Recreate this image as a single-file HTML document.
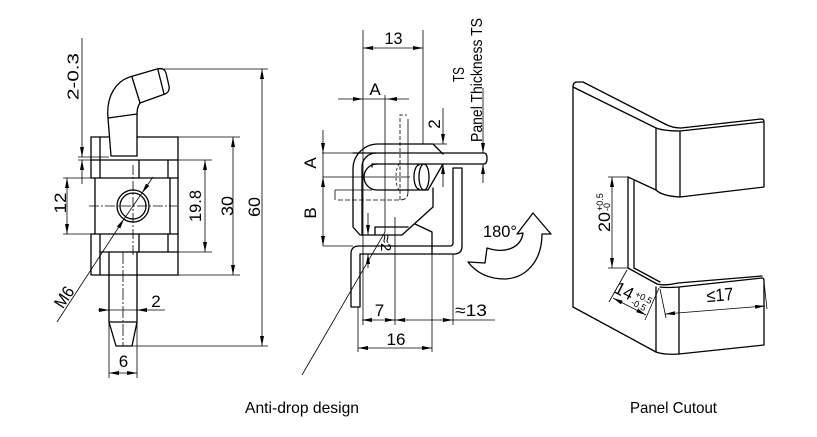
<!DOCTYPE html>
<html><head><meta charset="utf-8"><style>
html,body{margin:0;padding:0;background:#fff;}
svg{display:block}
text{font-family:"Liberation Sans",Arial,sans-serif;fill:#000}
</style></head><body>
<svg width="817" height="437" viewBox="0 0 817 437" xmlns="http://www.w3.org/2000/svg">
<defs>
<marker id="a" viewBox="0 0 10 4" refX="10" refY="2" markerWidth="10" markerHeight="4" orient="auto-start-reverse" markerUnits="userSpaceOnUse"><path d="M0,0L10,2L0,4Z" fill="#000"/></marker>
</defs>
<rect width="817" height="437" fill="#fff"/>

<!-- ================= LEFT VIEW thick ================= -->
<g fill="none" stroke="#000" stroke-width="1.3" stroke-linejoin="round" stroke-linecap="round">
  <path d="M108,118 C106,96 116,80 133,76 L157,69 Q164,67 166,73 L169,86 Q170,92 165,94 L140,103 C137,107 137,112 137,116 L137,156"/>
  <path d="M108,118 L111,156 L137,156"/>
  <path d="M108,118 L137,114"/>
  <path d="M132,77 L140,103"/>
  <path d="M158,70 L164,94"/>
  <path d="M91,137 H109 M137,137 H178"/>
  <path d="M91,137 V178 M100,137 V178"/>
  <path d="M91,160 H178"/>
  <path d="M139,160 V178 M168,160 V178"/>
  <path d="M91,178 H178"/>
  <path d="M95,178 V234 M170,178 V234"/>
  <path d="M91,234 H178"/>
  <path d="M178,137 V275"/>
  <path d="M91,234 V275 H178 M100,234 V275"/>
  <path d="M100,252 H178"/>
  <path d="M139,234 V252 M168,234 V252"/>
  <path d="M109,252 V322 L116,346 H132 L137,322 V252"/>
  <path d="M109,322 H137"/>
  <circle cx="133" cy="206" r="16"/>
  <circle cx="133" cy="206" r="13"/>
</g>

<!-- LEFT VIEW thin -->
<g fill="none" stroke="#000" stroke-width="0.8">
  <path d="M89,206 H177" stroke-dasharray="10,2,2,2"/>
  <path d="M133,165 V256" stroke-dasharray="10,2,2,2"/>
  <path d="M123,252 V346" stroke-dasharray="12,2,2,2"/>
  <!-- 2-0.3 -->
  <path d="M82,38 V157" marker-end="url(#a)"/>
  <path d="M82,184 V160" marker-end="url(#a)"/>
  <path d="M78,157 H109"/>
  <path d="M78,160 H91 M178,160 H212"/>
  <!-- 12 -->
  <path d="M67,178 V234" marker-start="url(#a)" marker-end="url(#a)"/>
  <path d="M63,178 H91 M63,234 H95"/>
  <!-- 19.8 -->
  <path d="M205,160 V252" marker-start="url(#a)" marker-end="url(#a)"/>
  <path d="M178,252 H212"/>
  <!-- 30 -->
  <path d="M233,137 V275" marker-start="url(#a)" marker-end="url(#a)"/>
  <path d="M178,137 H240 M178,275 H240"/>
  <!-- 60 -->
  <path d="M262,69 V346" marker-start="url(#a)" marker-end="url(#a)"/>
  <path d="M158,69 H268 M132,346 H268"/>
  <!-- M6 -->
  <path d="M153,177 L142,193" marker-end="url(#a)"/>
  <path d="M142,193 L124,219"/>
  <path d="M57,322 L124,219" marker-end="url(#a)"/>
  <!-- 2 step -->
  <path d="M98,310 H109" marker-end="url(#a)"/>
  <path d="M109,310 H137"/>
  <path d="M165,310 H137" marker-end="url(#a)"/>
  <!-- 6 -->
  <path d="M109,322 V378 M137,322 V378"/>
  <path d="M109,373 H137" marker-start="url(#a)" marker-end="url(#a)"/>
</g>

<!-- ================= MIDDLE VIEW thick ================= -->
<g fill="none" stroke="#000" stroke-width="1.3" stroke-linejoin="round" stroke-linecap="round">
  <path d="M443,154 L433,144 L378,144 A25,25 0 0 0 353,169 L353,227 L360,235 L402,235 L433,207 L433,188"/>
  <path d="M376,153 A14,14 0 0 0 362,167 L362,235"/>
  <path d="M375,235 L375,227 L408,227"/>
  <path d="M415,224 L432,232 L432,254"/>
  <path d="M353,153 H484 Q487,153 487,158.5 Q487,164 484,164 H372 V167"/>
  <path d="M377,164 A13,13 0 0 0 377,190 H428"/>
  <ellipse cx="424" cy="177" rx="5" ry="13"/>
  <path d="M419,165 A5,12 0 0 0 419,189"/>
  <path d="M443,164 L428,190"/>
  <path d="M453,168 H462 V246 Q462,254 454,254 H360 V307 H351 V254 Q351,246 359,246 H450 Q453,246 453,243 Z"/>
  <path d="M523,233 C521,248 505,254 487,248 L485,263 L468,262 C478,275 492,279 505,279 C527,278 542,260 542,234 L551,234 L533,213 L517,234 Z"/>
</g>

<!-- MIDDLE VIEW thin -->
<g fill="none" stroke="#000" stroke-width="0.8">
  <path d="M363,30 V325"/>
  <path d="M423,30 V144"/>
  <path d="M385,95 V232"/>
  <path d="M395,217 V325"/>
  <path d="M432,254 V352"/>
  <path d="M453,254 V325"/>
  <path d="M358,307 V352"/>
  <path d="M408,119 V192"/>
  <path d="M400,200 V115 H407" stroke-dasharray="4,2"/>
  <path d="M400,164 A4,13 0 0 0 400,190" stroke-dasharray="3,2"/>
  <path d="M335,190 V200"/>
  <path d="M338,200 H400 Q408,200 408,192" stroke-dasharray="5,2"/>
  <path d="M335,190 H372"/>
  <path d="M322,153 H353"/>
  <path d="M323,177 H410"/>
  <path d="M323,246 H353"/>
  <!-- 13 -->
  <path d="M363,48 H423" marker-start="url(#a)" marker-end="url(#a)"/>
  <!-- A top -->
  <path d="M338,99 H363" marker-end="url(#a)"/>
  <path d="M363,99 H387"/>
  <path d="M409,99 H387" marker-end="url(#a)"/>
  <!-- 2 -->
  <path d="M443,108 V144" marker-end="url(#a)"/>
  <path d="M443,187 V164" marker-end="url(#a)"/>
  <path d="M433,144 H447"/>
  <!-- panel thickness -->
  <path d="M483,88 V153" marker-end="url(#a)"/>
  <path d="M483,183 V164" marker-end="url(#a)"/>
  <!-- A / B left -->
  <path d="M323,130 V153" marker-end="url(#a)"/>
  <path d="M323,153 V177"/>
  <path d="M323,177 V246" marker-start="url(#a)" marker-end="url(#a)"/>
  <!-- ≈2 -->
  <path d="M368,213 V235" marker-end="url(#a)"/>
  <path d="M368,268 V254" marker-end="url(#a)"/>
  <!-- 7, ≈13, 16 -->
  <path d="M362,320 H395" marker-start="url(#a)" marker-end="url(#a)"/>
  <path d="M395,320 H453" marker-start="url(#a)" marker-end="url(#a)"/>
  <path d="M453,320 H495"/>
  <path d="M358,348 H432" marker-start="url(#a)" marker-end="url(#a)"/>
  <!-- leader -->
  <path d="M385,232 L302,375"/>
</g>

<!-- ================= RIGHT VIEW thick ================= -->
<g fill="none" stroke="#000" stroke-width="1.3" stroke-linejoin="round" stroke-linecap="round">
  <path d="M573,307 L573,87 Q573,82 577,82 L583,82 L665,124"/>
  <path d="M573,87 L656,128"/>
  <path d="M665,124 Q672,128 681,128"/>
  <path d="M656,128 Q664,131 680,131"/>
  <path d="M680,131 L763,122"/>
  <path d="M681,128 L761,119 Q764,119 764,122 L764,187 L680,197"/>
  <path d="M680,131 L680,197"/>
  <path d="M656,128 L656,190"/>
  <path d="M656,190 Q662,196 680,197"/>
  <path d="M628,177 L656,190"/>
  <path d="M628,177 L628,268"/>
  <path d="M634,181 L634,268"/>
  <path d="M628,268 L657,284"/>
  <path d="M634,268 L660,282"/>
  <path d="M656,287 L656,352"/>
  <path d="M657,284 Q665,286 678,283 L762,276"/>
  <path d="M660,287 Q667,288 679,287 L762,278 Q764,278 764,281 L764,345 L679,354"/>
  <path d="M679,287 L679,354"/>
  <path d="M656,352 Q664,355 679,354"/>
  <path d="M573,307 L656,352"/>
</g>

<!-- RIGHT VIEW thin -->
<g fill="none" stroke="#000" stroke-width="0.8">
  <path d="M612,177 V268" marker-start="url(#a)" marker-end="url(#a)"/>
  <path d="M608,177 H628 M608,268 H628"/>
  <path d="M627,270 L609,302"/>
  <path d="M659,288 L645,320"/>
  <path d="M613,298 L646,315" marker-start="url(#a)" marker-end="url(#a)"/>
  <path d="M660,289 L666,318"/>
  <path d="M764,282 L767,309"/>
  <path d="M665,314 L765,306" marker-start="url(#a)" marker-end="url(#a)"/>
</g>

<!-- ================= TEXT ================= -->
<g font-size="17">
  <text transform="translate(72.5,76.5) rotate(-90)" y="6" text-anchor="middle" font-size="16" textLength="47" lengthAdjust="spacingAndGlyphs">2-0.3</text>
  <text transform="translate(60,203) rotate(-90)" y="6" text-anchor="middle" textLength="21" lengthAdjust="spacingAndGlyphs">12</text>
  <text transform="translate(195,206) rotate(-90)" y="6" text-anchor="middle" textLength="32" lengthAdjust="spacingAndGlyphs">19.8</text>
  <text transform="translate(227,206) rotate(-90)" y="6" text-anchor="middle" textLength="20" lengthAdjust="spacingAndGlyphs">30</text>
  <text transform="translate(254,207) rotate(-90)" y="6" text-anchor="middle" textLength="20" lengthAdjust="spacingAndGlyphs">60</text>
  <text transform="translate(64,297) rotate(-56.5)" y="6" text-anchor="middle" textLength="22" lengthAdjust="spacingAndGlyphs">M6</text>
  <text x="156" y="307" text-anchor="middle">2</text>
  <text x="123.5" y="367" text-anchor="middle">6</text>

  <text x="393.5" y="44" text-anchor="middle" textLength="18" lengthAdjust="spacingAndGlyphs">13</text>
  <text x="375" y="95" text-anchor="middle">A</text>
  <text transform="translate(458,74.5) rotate(-90)" y="6" text-anchor="middle" font-size="16" textLength="15" lengthAdjust="spacingAndGlyphs">TS</text>
  <text transform="translate(476,80) rotate(-90)" y="6" text-anchor="middle" font-size="16" textLength="124" lengthAdjust="spacingAndGlyphs">Panel Thickness TS</text>
  <text transform="translate(434,124) rotate(-90)" y="6" text-anchor="middle">2</text>
  <text transform="translate(310,163) rotate(-90)" y="6" text-anchor="middle">A</text>
  <text transform="translate(310,213) rotate(-90)" y="6" text-anchor="middle">B</text>
  <text transform="translate(386,243) rotate(90)" y="5" text-anchor="middle" font-size="15">≈2</text>
  <text x="379.5" y="316" text-anchor="middle">7</text>
  <text x="471" y="316" text-anchor="middle" textLength="32" lengthAdjust="spacingAndGlyphs">≈13</text>
  <text x="396" y="345" text-anchor="middle" textLength="19" lengthAdjust="spacingAndGlyphs">16</text>
  <text x="500" y="237" text-anchor="middle" textLength="34" lengthAdjust="spacingAndGlyphs">180°</text>

  <g transform="translate(610,232) rotate(-90)">
    <text x="0" y="0" font-size="17" textLength="20" lengthAdjust="spacingAndGlyphs">20</text>
    <text x="21" y="-7" font-size="9">+0.5</text>
    <text x="21" y="0" font-size="9">-0</text>
  </g>
  <g transform="translate(613,292) rotate(27)">
    <text x="0" y="0" font-size="18" textLength="19" lengthAdjust="spacingAndGlyphs">14</text>
    <text x="21" y="-6" font-size="9">+0.5</text>
    <text x="21" y="3" font-size="9">-0.5</text>
  </g>
  <text transform="translate(720,295) rotate(-4.6)" y="6" text-anchor="middle" font-size="18" textLength="27" lengthAdjust="spacingAndGlyphs">≤17</text>

  <text x="245" y="413" font-size="16" textLength="114" lengthAdjust="spacingAndGlyphs">Anti-drop design</text>
  <text x="630" y="413" font-size="16" textLength="87" lengthAdjust="spacingAndGlyphs">Panel Cutout</text>
</g>
</svg>
</body></html>
